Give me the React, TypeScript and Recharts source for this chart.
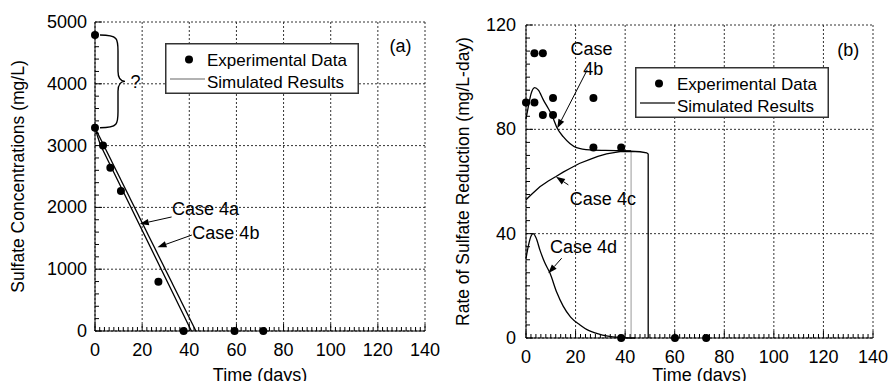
import React from 'react';
import {
  ComposedChart,
  Line,
  Scatter,
  XAxis,
  YAxis,
  CartesianGrid,
  Legend,
  ReferenceLine,
  ReferenceDot,
} from 'recharts';

const FONT = '"Liberation Sans", Arial, Helvetica, sans-serif';

// ---- shared axis ticks ----
const dayTicks = [0, 20, 40, 60, 80, 100, 120, 140];
const concTicks = [0, 1000, 2000, 3000, 4000, 5000];
const rateTicks = [0, 40, 80, 120];
const legendLabels = ['Experimental Data', 'Simulated Results'];

// ---- panel (a): sulfate concentration (mg/L) ----
const concDays = [0, 0, 3.4, 6.5, 11, 26.9, 37.6, 59.2, 71.4];
const concValues = [4790, 3290, 3000, 2640, 2265, 795, 0, 0, 0];
const case4aConcDays = [0, 1, 2.3, 40.9];
const case4aConc = [3290, 3160, 3011, 0];
const case4bConcDays = [0, 42.8];
const case4bConc = [3290, 0];

// ---- panel (b): rate of sulfate reduction (mg/L-day) ----
const rateDays = [0, 3.4, 3.4, 6.8, 6.8, 10.9, 10.9, 27.2, 27.2, 38.4, 38.4, 60.1, 72.7];
const rateValues = [90.3, 109.2, 90.3, 109.2, 85.5, 92, 85.5, 92, 73, 73, 0, 0, 0];
const case4bRateDays = [0, 1, 2, 3.5, 5, 7, 9, 10.4, 12.6, 15, 17.7, 20.4, 25.8, 32, 38, 42.4];
const case4bRate = [84, 89, 93.5, 96, 95, 91.3, 88, 85.5, 80.4, 77.2, 74.6, 73, 72.1, 71.9, 71.8, 71.7];
const case4bDropDays = [42.4, 42.4];
const case4bDrop = [71.7, 0];
const case4cRateDays = [0, 2.5, 5.6, 9, 12.1, 15, 17.7, 21.5, 25.8, 29, 32.5, 35.5, 38, 42, 46, 48.7, 49.3, 49.3];
const case4cRate = [53, 55.3, 58, 60.2, 61.9, 63.6, 65, 66.9, 68.5, 69.6, 70.6, 71.1, 71.5, 71.6, 71.4, 71, 70.5, 0];
const case4dRateDays = [0, 1, 2, 2.9, 4, 5.7, 7.5, 9.7, 12.4, 15, 18, 21.8, 25, 28.5, 33, 38, 44];
const case4dRate = [30.5, 35.5, 39, 40, 38.5, 33.5, 29, 24.8, 17.5, 12.2, 8, 5, 3, 1.8, 0.7, 0.2, 0];

const zip = (xs: number[], ys: number[]) => xs.map((x, i) => ({ x, y: ys[i] }));
const minorTicks = (max: number, step: number) =>
  Array.from({ length: Math.round(max / step) + 1 }, (_, i) => +(i * step).toFixed(4));

const xTick = (majors: number[], label: boolean, dir: number) => (p: any) => {
  const major = majors.includes(p.payload.value);
  const len = major ? 7 : 4;
  return (
    <g>
      <line x1={p.x} x2={p.x} y1={p.y} y2={p.y + dir * len} stroke="#000" strokeWidth={1} />
      {label && major && (
        <text x={p.x} y={p.y + 25} textAnchor="middle" fontSize={18} fontFamily={FONT} fill="#000">
          {p.payload.value}
        </text>
      )}
    </g>
  );
};

const yTick = (majors: number[], label: boolean, dir: number, gap = 8) => (p: any) => {
  const major = majors.includes(p.payload.value);
  const len = major ? 7 : 4;
  return (
    <g>
      <line x1={p.x} x2={p.x + dir * len} y1={p.y} y2={p.y} stroke="#000" strokeWidth={1} />
      {label && major && (
        <text x={p.x - gap} y={p.y + 6} textAnchor="end" fontSize={18} fontFamily={FONT} fill="#000">
          {p.payload.value}
        </text>
      )}
    </g>
  );
};

const Arrow = (p: any) => {
  const { x1, y1, x2, y2 } = p;
  const a = Math.atan2(y2 - y1, x2 - x1);
  const L = 9;
  const W = 3.2;
  const bx = x2 - L * Math.cos(a);
  const by = y2 - L * Math.sin(a);
  const pts = `${x2},${y2} ${bx + W * Math.sin(a)},${by - W * Math.cos(a)} ${bx - W * Math.sin(a)},${by + W * Math.cos(a)}`;
  return (
    <g>
      <line x1={x1} y1={y1} x2={bx} y2={by} stroke="#000" strokeWidth={1} />
      <polygon points={pts} fill="#000" />
    </g>
  );
};

const Brace = (p: any) => {
  const x0 = p.x1;
  const top = Math.min(p.y1, p.y2);
  const bot = Math.max(p.y1, p.y2);
  const mid = (top + bot) / 2;
  const s = x0 + 5;
  const v = x0 + 23;
  const t = x0 + 30;
  const d =
    `M ${s} ${top} C ${v} ${top}, ${v} ${top + 4}, ${v} ${top + 16} ` +
    `L ${v} ${mid - 10} C ${v} ${mid - 2}, ${v + 3} ${mid}, ${t} ${mid} ` +
    `C ${v + 3} ${mid}, ${v} ${mid + 2}, ${v} ${mid + 10} ` +
    `L ${v} ${bot - 16} C ${v} ${bot - 4}, ${v} ${bot}, ${s} ${bot}`;
  return <path d={d} fill="none" stroke="#000" strokeWidth={1.4} />;
};

const textAt = (text: string, anchor: 'start' | 'middle' = 'start') => (p: any) => (
  <text x={p.cx} y={p.cy} textAnchor={anchor} fontSize={18} fontFamily={FONT} fill="#000">
    {text}
  </text>
);

const dotShape = (p: any) => <circle cx={p.cx} cy={p.cy} r={4} fill="#000" />;

function LegendBox({ lineColor }: { lineColor: string }) {
  return (
    <svg width={194} height={51} style={{ display: 'block' }}>
      <rect x={0.75} y={0.75} width={192.5} height={49.5} fill="#fff" stroke="#333" strokeWidth={1.5} />
      <circle cx={24} cy={16.5} r={4} fill="#000" />
      <text x={42} y={22.5} fontSize={17} fontFamily={FONT} fill="#000">
        {legendLabels[0]}
      </text>
      <line x1={5} x2={40} y1={36} y2={36} stroke={lineColor} strokeWidth={1.5} />
      <text x={42} y={44.5} fontSize={17} fontFamily={FONT} fill="#000">
        {legendLabels[1]}
      </text>
    </svg>
  );
}

const titleStyle = { fontSize: 17.5, fontFamily: FONT, fill: '#000', textAnchor: 'middle' as const };
const xTitleStyle = { ...titleStyle, fontSize: 18 };

function ConcentrationChart() {
  return (
    <ComposedChart width={445} height={381} margin={{ top: 22, right: 20, bottom: 0, left: 8 }}>
      <CartesianGrid
        stroke="#333"
        strokeDasharray="2 2"
        verticalValues={dayTicks}
        horizontalValues={concTicks}
      />
      <XAxis
        type="number"
        dataKey="x"
        domain={[0, 140]}
        ticks={minorTicks(140, 2)}
        interval={0}
        height={50}
        tickSize={0}
        tickMargin={0}
        tickLine={false}
        axisLine={{ stroke: '#000' }}
        tick={xTick(dayTicks, true, -1)}
        label={{ value: 'Time (days)', position: 'insideBottom', offset: 0, style: xTitleStyle }}
      />
      <XAxis
        xAxisId="top"
        orientation="top"
        type="number"
        domain={[0, 140]}
        ticks={minorTicks(140, 2)}
        interval={0}
        height={0}
        tickSize={0}
        tickMargin={0}
        tickLine={false}
        axisLine={{ stroke: '#000' }}
        tick={xTick(dayTicks, false, 1)}
      />
      <YAxis
        type="number"
        dataKey="y"
        domain={[0, 5000]}
        ticks={minorTicks(5000, 200)}
        interval={0}
        width={87}
        tickSize={0}
        tickMargin={0}
        tickLine={false}
        axisLine={{ stroke: '#000' }}
        tick={yTick(concTicks, true, 1, 8)}
        label={{ value: 'Sulfate Concentrations (mg/L)', angle: -90, position: 'insideLeft', offset: 10, style: titleStyle }}
      />
      <YAxis
        yAxisId="right"
        orientation="right"
        type="number"
        domain={[0, 5000]}
        ticks={minorTicks(5000, 200)}
        interval={0}
        width={0}
        tickSize={0}
        tickMargin={0}
        tickLine={false}
        axisLine={{ stroke: '#000' }}
        tick={yTick(concTicks, false, -1)}
      />
      <Line data={zip(case4aConcDays, case4aConc)} dataKey="y" type="linear" stroke="#000" strokeWidth={1.3} dot={false} isAnimationActive={false} />
      <Line data={zip(case4bConcDays, case4bConc)} dataKey="y" type="linear" stroke="#000" strokeWidth={1.3} dot={false} isAnimationActive={false} />
      <Scatter data={zip(concDays, concValues)} dataKey="y" fill="#000" shape={dotShape} isAnimationActive={false} />
      <ReferenceLine segment={[{ x: 0, y: 4790 }, { x: 0, y: 3290 }]} shape={Brace} />
      <ReferenceDot x={17.2} y={3932} r={0} shape={textAt('?', 'middle')} />
      <ReferenceDot x={129.6} y={4515} r={0} shape={textAt('(a)', 'middle')} />
      <ReferenceDot x={32.7} y={1877} r={0} shape={textAt('Case 4a')} />
      <ReferenceLine segment={[{ x: 32.5, y: 1845 }, { x: 19, y: 1731 }]} shape={Arrow} />
      <ReferenceDot x={41.3} y={1489} r={0} shape={textAt('Case 4b')} />
      <ReferenceLine segment={[{ x: 41.1, y: 1553 }, { x: 26.5, y: 1354 }]} shape={Arrow} />
      <Legend
        layout="vertical"
        align="center"
        verticalAlign="middle"
        wrapperStyle={{ position: 'absolute', left: 165, top: 43, width: 194, height: 51 }}
        content={() => <LegendBox lineColor="#999" />}
      />
    </ComposedChart>
  );
}

function RateChart() {
  return (
    <ComposedChart width={444} height={381} margin={{ top: 25, right: 16, bottom: 0, left: 8 }}>
      <CartesianGrid
        stroke="#333"
        strokeDasharray="2 2"
        verticalValues={dayTicks}
        horizontalValues={rateTicks}
      />
      <XAxis
        type="number"
        dataKey="x"
        domain={[0, 140]}
        ticks={minorTicks(140, 2)}
        interval={0}
        height={43}
        tickSize={0}
        tickMargin={0}
        tickLine={false}
        axisLine={{ stroke: '#000' }}
        tick={xTick(dayTicks, true, -1)}
        label={{ value: 'Time (days)', position: 'insideBottom', offset: 0, style: xTitleStyle }}
      />
      <XAxis
        xAxisId="top"
        orientation="top"
        type="number"
        domain={[0, 140]}
        ticks={minorTicks(140, 2)}
        interval={0}
        height={0}
        tickSize={0}
        tickMargin={0}
        tickLine={false}
        axisLine={{ stroke: '#000' }}
        tick={xTick(dayTicks, false, 1)}
      />
      <YAxis
        type="number"
        dataKey="y"
        domain={[0, 120]}
        ticks={minorTicks(120, 5)}
        interval={0}
        width={73}
        tickSize={0}
        tickMargin={0}
        tickLine={false}
        axisLine={{ stroke: '#000' }}
        tick={yTick(rateTicks, true, 1, 10)}
        label={{ value: 'Rate of Sulfate Reduction (mg/L-day)', angle: -90, position: 'insideLeft', offset: 10, style: titleStyle }}
      />
      <YAxis
        yAxisId="right"
        orientation="right"
        type="number"
        domain={[0, 120]}
        ticks={minorTicks(120, 5)}
        interval={0}
        width={0}
        tickSize={0}
        tickMargin={0}
        tickLine={false}
        axisLine={{ stroke: '#000' }}
        tick={yTick(rateTicks, false, -1)}
      />
      <Line data={zip(case4bRateDays, case4bRate)} dataKey="y" type="monotone" stroke="#000" strokeWidth={1.3} dot={false} isAnimationActive={false} />
      <Line data={zip(case4bDropDays, case4bDrop)} dataKey="y" type="linear" stroke="#999" strokeWidth={1} dot={false} isAnimationActive={false} />
      <Line data={zip(case4cRateDays, case4cRate)} dataKey="y" type="linear" stroke="#000" strokeWidth={1.3} dot={false} isAnimationActive={false} />
      <Line data={zip(case4dRateDays, case4dRate)} dataKey="y" type="monotone" stroke="#000" strokeWidth={1.3} dot={false} isAnimationActive={false} />
      <Scatter data={zip(rateDays, rateValues)} dataKey="y" fill="#000" shape={dotShape} isAnimationActive={false} />
      <ReferenceDot x={26.4} y={108.5} r={0} shape={textAt('Case', 'middle')} />
      <ReferenceDot x={27.1} y={100.8} r={0} shape={textAt('4b', 'middle')} />
      <ReferenceLine segment={[{ x: 24.7, y: 102.8 }, { x: 12.6, y: 80.4 }]} shape={Arrow} />
      <ReferenceDot x={17.7} y={51} r={0} shape={textAt('Case 4c')} />
      <ReferenceLine segment={[{ x: 17.1, y: 58.7 }, { x: 12.1, y: 61.8 }]} shape={Arrow} />
      <ReferenceDot x={9.7} y={32.6} r={0} shape={textAt('Case 4d')} />
      <ReferenceLine segment={[{ x: 14.4, y: 30.6 }, { x: 9, y: 24.8 }]} shape={Arrow} />
      <ReferenceDot x={130} y={108.1} r={0} shape={textAt('(b)', 'middle')} />
      <Legend
        layout="vertical"
        align="center"
        verticalAlign="middle"
        wrapperStyle={{ position: 'absolute', left: 190, top: 67, width: 194, height: 51 }}
        content={() => <LegendBox lineColor="#333" />}
      />
    </ComposedChart>
  );
}

export default function App() {
  return (
    <div style={{ position: 'absolute', left: 0, top: 0, width: 889, height: 381, background: '#fff', display: 'flex' }}>
      <ConcentrationChart />
      <RateChart />
    </div>
  );
}
